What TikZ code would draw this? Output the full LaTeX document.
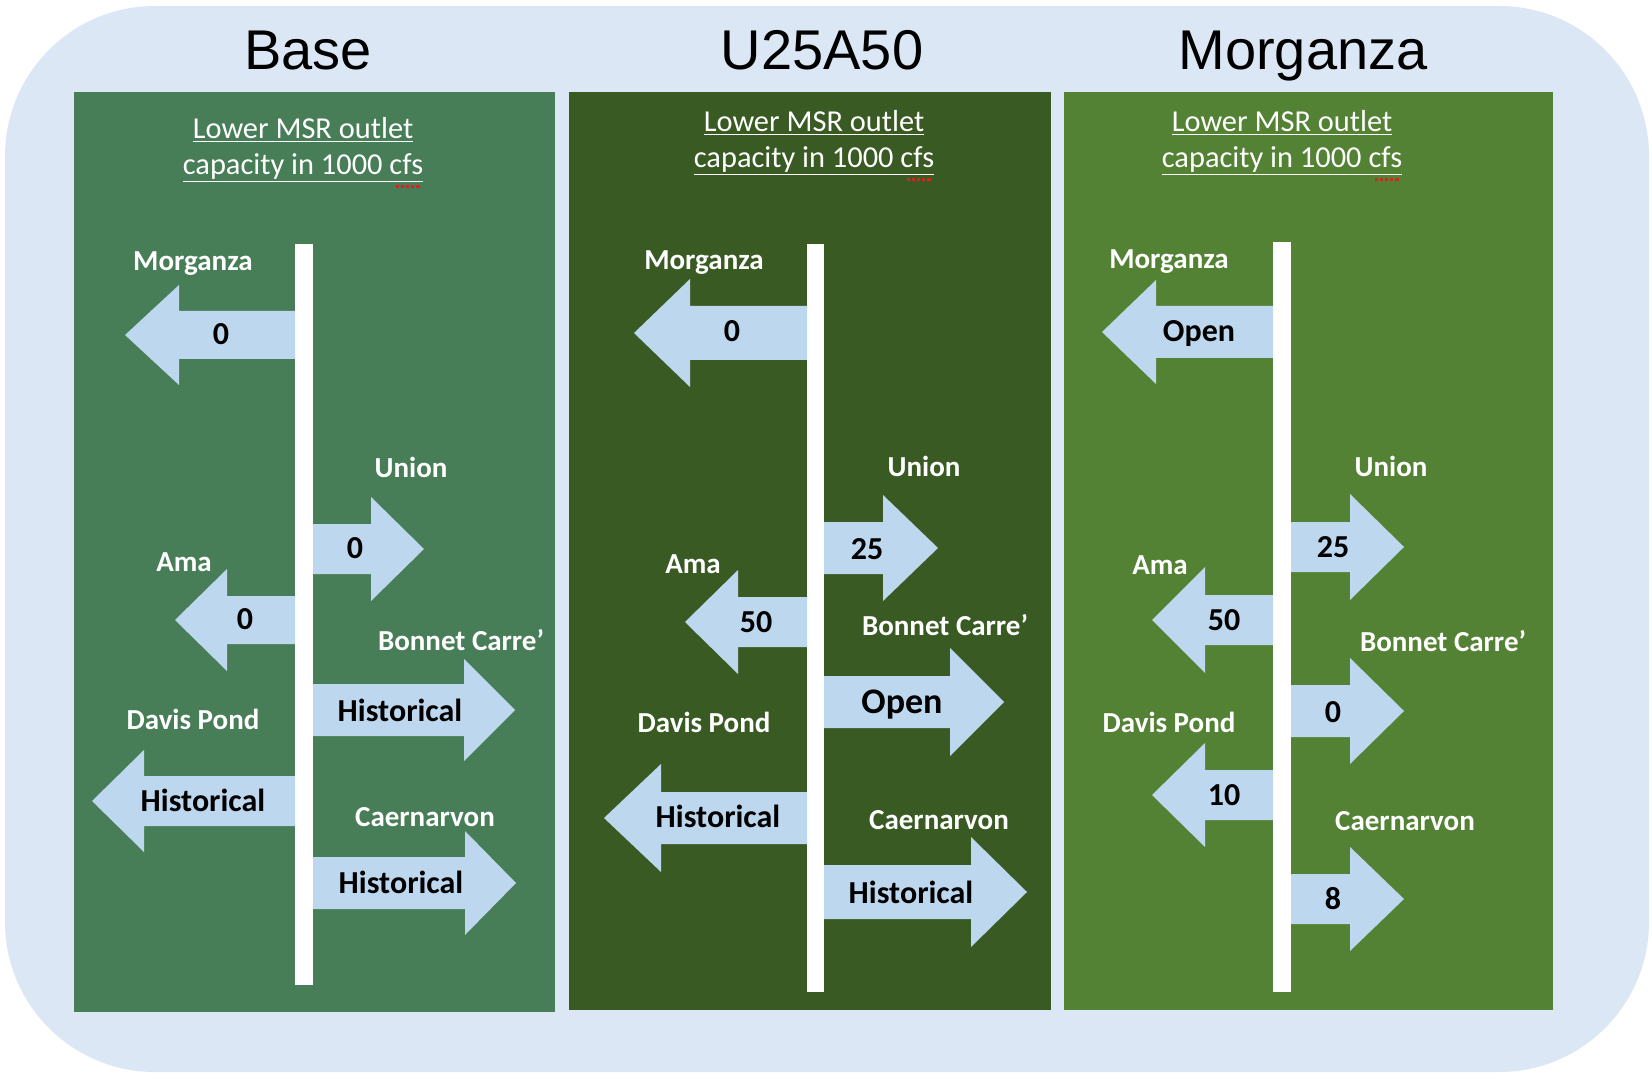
\documentclass[tikz,border=0pt]{standalone}
\usepackage{fontspec}
\setmainfont{Carlito}
\newfontfamily\arialfont{Liberation Sans}
\usetikzlibrary{calc}
\definecolor{bgblue}{HTML}{DCE7F5}
\definecolor{basegreen}{HTML}{477D57}
\definecolor{ugreen}{HTML}{3A5A24}
\definecolor{mgreen}{HTML}{548235}
\definecolor{arrowblue}{HTML}{BDD7EE}
\definecolor{spellred}{HTML}{E02020}
\newcommand{\flowarrow}[6]{%
  \fill[arrowblue] (#1,#4-#5) -- (#2,#4-#5) -- (#2,#4-#6) -- (#3,#4)
    -- (#2,#4+#6) -- (#2,#4+#5) -- (#1,#4+#5) -- cycle;}
\tikzset{
  ttl/.style={anchor=base,font=\arialfont\fontsize{28}{32}\selectfont},
  header/.style={text=white,align=center,inner sep=0pt,font=\fontsize{15.2}{18}\selectfont},
  outlet/.style={text=white,inner sep=0pt,text height=0.64em,text depth=0pt,yshift=-1.6pt,font=\bfseries\fontsize{14.5}{17}\selectfont},
  amount/.style={text=black,inner sep=0pt,text height=0.64em,text depth=0pt,yshift=-1.8pt,font=\bfseries\fontsize{16}{19}\selectfont},
  squiggle/.style={spellred,densely dotted,line width=1.6}
}
\begin{document}
\begin{tikzpicture}[x=0.5pt,y=-0.5pt]
  \useasboundingbox (0,0) rectangle (1652,1074);
  \fill[white] (0,0) rectangle (1652,1074);
  \fill[bgblue,rounded corners=75] (5,6) rectangle (1649,1072);

  \fill[basegreen] (74,92) rectangle (555,1012);
  \fill[ugreen] (569,92) rectangle (1051,1010);
  \fill[mgreen] (1064,92) rectangle (1553,1010);

  \node[ttl] (ttlBase) at (308,70) {Base};
  \node[ttl] (ttlU) at (822,70) {U25A50};
  \node[ttl] (ttlM) at (1303,70) {Morganza};

  \node[header] (hdrA) at (303,150) {\underline{Lower MSR outlet}\\\underline{capacity in 1000 cfs}};
  \node[header] (hdrB) at (814,143) {\underline{Lower MSR outlet}\\\underline{capacity in 1000 cfs}};
  \node[header] (hdrC) at (1282,143) {\underline{Lower MSR outlet}\\\underline{capacity in 1000 cfs}};
  \draw[squiggle] ($(hdrA.south east)+(-28,3)$) -- ($(hdrA.south east)+(-2,3)$);
  \draw[squiggle] ($(hdrB.south east)+(-28,3)$) -- ($(hdrB.south east)+(-2,3)$);
  \draw[squiggle] ($(hdrC.south east)+(-28,3)$) -- ($(hdrC.south east)+(-2,3)$);

  \fill[white] (295,244) rectangle (313,985);
  \fill[white] (807,244) rectangle (824,992);
  \fill[white] (1273,242) rectangle (1291,992);

  \flowarrow{295}{179}{125}{335}{24}{50}
  \flowarrow{313}{371}{424}{549}{25}{52}
  \flowarrow{295}{227}{175}{620}{24}{51}
  \flowarrow{313}{464}{515}{710}{26}{51}
  \flowarrow{295}{144}{92}{801}{25}{51}
  \flowarrow{313}{465}{516}{883}{26}{52}
  \node[outlet] (mA) at (193,261) {Morganza};
  \node[outlet] (uA) at (411,468) {Union};
  \node[outlet] (aA) at (184,562) {Ama};
  \node[outlet] (bA) at (461,641) {Bonnet Carre’};
  \node[outlet] (dA) at (193,720) {Davis Pond};
  \node[outlet] (cA) at (425,817) {Caernarvon};
  \node[amount] (vmA) at (221,335) {0};
  \node[amount] (vuA) at (355,548) {0};
  \node[amount] (vaA) at (245,619) {0};
  \node[amount] (vbA) at (400,711) {Historical};
  \node[amount] (vdA) at (203,801) {Historical};
  \node[amount] (vcA) at (401,883) {Historical};

  \flowarrow{807}{690}{634}{333}{27}{54}
  \flowarrow{824}{883}{938}{548}{26}{53}
  \flowarrow{807}{738}{685}{622}{25}{52}
  \flowarrow{824}{950}{1004}{702}{26}{54}
  \flowarrow{807}{661}{604}{818}{26}{54}
  \flowarrow{824}{971}{1027}{892}{27}{55}
  \node[outlet] (mB) at (704,260) {Morganza};
  \node[outlet] (uB) at (924,467) {Union};
  \node[outlet] (aB) at (693,564) {Ama};
  \node[outlet] (bB) at (945,626) {Bonnet Carre’};
  \node[outlet] (dB) at (704,723) {Davis Pond};
  \node[outlet] (cB) at (939,820) {Caernarvon};
  \node[amount] (vmB) at (732,332) {0};
  \node[amount] (vuB) at (867,549) {25};
  \node[amount] (vaB) at (756,622) {50};
  \node[amount,font=\bfseries\fontsize{18}{21}\selectfont] (vbB) at (902,703) {Open};
  \node[amount] (vdB) at (718,817) {Historical};
  \node[amount] (vcB) at (911,893) {Historical};

  \flowarrow{1273}{1156}{1102}{332}{26}{52}
  \flowarrow{1291}{1350}{1404}{547}{25}{53}
  \flowarrow{1273}{1205}{1152}{620}{25}{53}
  \flowarrow{1291}{1350}{1404}{711}{26}{53}
  \flowarrow{1273}{1205}{1152}{795}{25}{52}
  \flowarrow{1291}{1350}{1404}{899}{25}{52}
  \node[outlet] (mC) at (1169,259) {Morganza};
  \node[outlet] (uC) at (1391,467) {Union};
  \node[outlet] (aC) at (1160,565) {Ama};
  \node[outlet] (bC) at (1443,642) {Bonnet Carre’};
  \node[outlet] (dC) at (1169,723) {Davis Pond};
  \node[outlet] (cC) at (1405,821) {Caernarvon};
  \node[amount] (vmC) at (1199,332) {Open};
  \node[amount] (vuC) at (1333,547) {25};
  \node[amount] (vaC) at (1224,620) {50};
  \node[amount] (vbC) at (1333,712) {0};
  \node[amount] (vdC) at (1224,795) {10};
  \node[amount] (vcC) at (1333,899) {8};
\end{tikzpicture}
\end{document}
